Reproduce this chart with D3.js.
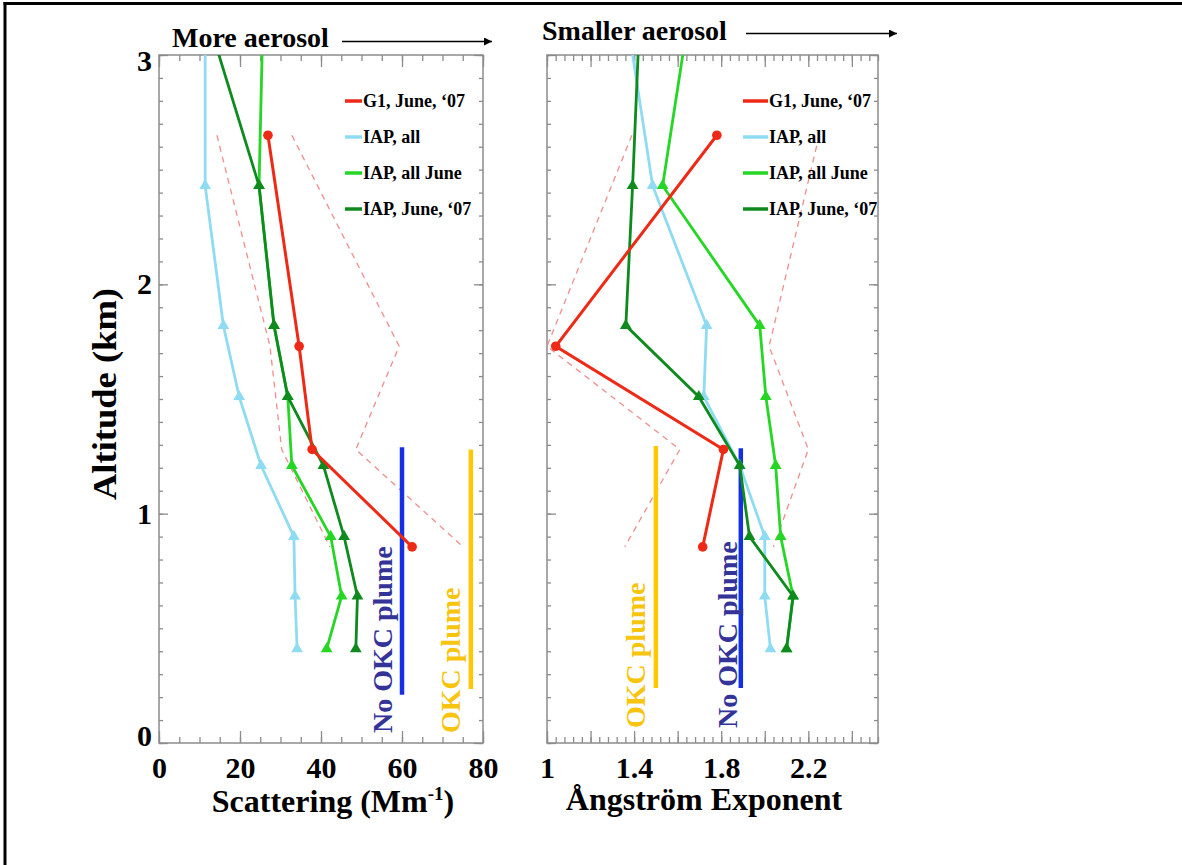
<!DOCTYPE html>
<html>
<head>
<meta charset="utf-8">
<title>Aerosol vertical profiles</title>
<style>
body { margin: 0; background: #fff; }
svg text { font-family: "Liberation Serif", "Times New Roman", serif; font-weight: bold; }
.frame { fill: none; stroke: #8c8c8c; stroke-width: 1.5; }
.ax .tick line { stroke: #8c8c8c; stroke-width: 1.3; }
.ax .domain { display: none; }
.lab text { fill: #000; }
</style>
</head>
<body>
<svg id="chart" width="1182" height="865"></svg>
<script src="https://cdn.jsdelivr.net/npm/d3@7"></script>
<script>
// altitudes (km) of the profile points
const iapAlt = [3.04, 2.43, 1.82, 1.51, 1.21, 0.90, 0.64, 0.41];
const g1Alt = [2.65, 1.73, 1.28, 0.855];

// scattering (Mm-1)
const g1Scat = [26.9, 34.6, 37.8, 62.5];
const g1ScatLo = [14.3, 27.4, 30.3, 42.2];
const g1ScatHi = [32.8, 59.3, 48.6, 75.1];
const iapAllScat = [11.4, 11.4, 15.9, 19.8, 25.2, 33.3, 33.6, 34.1];
const iapJuneScat = [25.5, 24.7, 28.4, 31.8, 32.8, 42.4, 45.1, 41.4];
const iap07Scat = [14.1, 24.7, 28.4, 31.8, 40.6, 45.7, 49.0, 48.6];

// angstrom exponent
const g1Ang = [1.78, 1.04, 1.81, 1.715];
const g1AngLo = [1.39, 1.0, 1.61, 1.357];
const g1AngHi = [2.25, 2.02, 2.20, 2.04];
const iapAllAng = [1.387, 1.485, 1.733, 1.72, 1.885, 2.0, 2.0, 2.026];
const iapJuneAng = [1.63, 1.531, 1.977, 2.005, 2.05, 2.073, 2.13, 2.10];
const iap07Ang = [1.42, 1.393, 1.362, 1.697, 1.885, 1.93, 2.13, 2.10];

// plume bars: value, bottom and top altitude
const plumeNames = ["No OKC plume", "OKC plume"];
const scatPlumeVal = [60, 77];
const angPlumeVal = [1.89, 1.50];
const scatPlumeAlt = [[0.21, 1.29], [0.235, 1.28]];
const angPlumeAlt = [[0.24, 1.285], [0.24, 1.295]];

// ticks and labels
const altTicks = [0, 1, 2, 3];
const scatTicks = [0, 20, 40, 60, 80];
const angTicks = [1, 1.4, 1.8, 2.2];
const seriesNames = ["G1, June, \u201807", "IAP, all", "IAP, all June", "IAP, June, \u201807"];

const col = { g1: "#ee2a16", all: "#8fdcf2", june: "#25d625", y07: "#0f8a1e", dash: "#ee8e8e" };
const plumeCol = ["#1530e2", "#ffc800"];
const plumeText = ["#343498", "#f7c510"];

const svg = d3.select("#chart");

// page border (cropped figure)
svg.append("line").attr("x1", 3.5).attr("x2", 1182).attr("y1", 3.5).attr("y2", 3.5)
  .attr("stroke", "#000").attr("stroke-width", 3);
svg.append("line").attr("x1", 5).attr("x2", 5).attr("y1", 2).attr("y2", 865)
  .attr("stroke", "#000").attr("stroke-width", 3);

const y = d3.scaleLinear().domain([0, 3]).range([743, 55]);

function steps(d0, d1, step) {
  const n = Math.floor((d1 - d0) / step + 1e-6);
  return d3.range(n + 1).map(i => +(d0 + i * step).toFixed(4));
}

const panels = [
  {
    id: "scat", x: d3.scaleLinear().domain([0, 80]).range([159, 483]),
    minor: 5, major: 20, labels: scatTicks, fmt: d3.format("d"),
    g1: g1Scat, lo: g1ScatLo, hi: g1ScatHi, all: iapAllScat, june: iapJuneScat, y07: iap07Scat,
    plume: scatPlumeVal, plumeAlt: scatPlumeAlt, textDx: [-10, -11], textBottom: 733,
    legX: 345, legLen: 17
  },
  {
    id: "ang", x: d3.scaleLinear().domain([1, 2.52]).range([547, 878]),
    minor: 0.04, major: 0.2, labels: angTicks, fmt: d => d3.format("")(d),
    g1: g1Ang, lo: g1AngLo, hi: g1AngHi, all: iapAllAng, june: iapJuneAng, y07: iap07Ang,
    plume: angPlumeVal, plumeAlt: angPlumeAlt, textDx: [-4, -11], textBottom: 728,
    legX: 743, legLen: 25
  }
];

panels.forEach((p, pi) => {
  const x = p.x;
  const [x0, x1] = x.range();
  const g = svg.append("g");

  // ticks, all pointing inward
  const xMinor = steps(x.domain()[0], x.domain()[1], p.minor);
  const xMajor = steps(x.domain()[0], x.domain()[1], p.major);
  const yMinor = steps(0, 3, 0.1);
  g.append("g").attr("class", "ax").attr("transform", `translate(0,${y(0)})`)
    .call(d3.axisBottom(x).tickValues(xMinor).tickSize(-6).tickFormat(""));
  g.append("g").attr("class", "ax").attr("transform", `translate(0,${y(0)})`)
    .call(d3.axisBottom(x).tickValues(xMajor).tickSize(-12).tickFormat(""));
  g.append("g").attr("class", "ax").attr("transform", `translate(0,${y(3)})`)
    .call(d3.axisTop(x).tickValues(xMinor).tickSize(-6).tickFormat(""));
  g.append("g").attr("class", "ax").attr("transform", `translate(0,${y(3)})`)
    .call(d3.axisTop(x).tickValues(xMajor).tickSize(-12).tickFormat(""));
  g.append("g").attr("class", "ax").attr("transform", `translate(${x0},0)`)
    .call(d3.axisLeft(y).tickValues(yMinor).tickSize(-4).tickFormat(""));
  g.append("g").attr("class", "ax").attr("transform", `translate(${x0},0)`)
    .call(d3.axisLeft(y).tickValues(altTicks).tickSize(-9).tickFormat(""));
  g.append("g").attr("class", "ax").attr("transform", `translate(${x1},0)`)
    .call(d3.axisRight(y).tickValues(yMinor).tickSize(-4).tickFormat(""));
  g.append("g").attr("class", "ax").attr("transform", `translate(${x1},0)`)
    .call(d3.axisRight(y).tickValues(altTicks).tickSize(-9).tickFormat(""));

  g.append("rect").attr("class", "frame")
    .attr("x", x0).attr("y", y(3)).attr("width", x1 - x0).attr("height", y(0) - y(3));

  // x tick labels
  const xl = g.append("g").attr("class", "lab").attr("transform", `translate(0,${y(0)})`)
    .call(d3.axisBottom(x).tickValues(p.labels).tickSize(0).tickPadding(14).tickFormat(p.fmt));
  xl.select(".domain").remove();
  xl.selectAll("text").attr("font-size", 30).attr("font-family", null);

  if (pi === 0) {
    const yl = g.append("g").attr("class", "lab").attr("transform", `translate(${x0},0)`)
      .call(d3.axisLeft(y).tickValues(altTicks).tickSize(0).tickPadding(7).tickFormat(d3.format("d")));
    yl.select(".domain").remove();
    yl.selectAll("text").attr("font-size", 30).attr("font-family", null)
      .attr("dy", d => d === 3 ? "0.5em" : d === 0 ? "0.07em" : "0.32em");
  }

  // data area
  g.append("clipPath").attr("id", "clip-" + p.id).append("rect")
    .attr("x", x0).attr("y", y(3)).attr("width", x1 - x0).attr("height", y(0) - y(3));
  const area = g.append("g").attr("clip-path", `url(#clip-${p.id})`);

  const line = d3.line().x(d => x(d[0])).y(d => y(d[1]));
  const zipG1 = v => v.map((d, i) => [d, g1Alt[i]]);
  const zipIap = v => v.map((d, i) => [d, iapAlt[i]]);

  [p.lo, p.hi].forEach(v => {
    area.append("path").datum(zipG1(v)).attr("d", line)
      .attr("fill", "none").attr("stroke", col.dash).attr("stroke-width", 1.3)
      .attr("stroke-dasharray", "6,5");
  });

  // plume bars and labels
  p.plume.forEach((v, i) => {
    area.append("line")
      .attr("x1", x(v)).attr("x2", x(v))
      .attr("y1", y(p.plumeAlt[i][0])).attr("y2", y(p.plumeAlt[i][1]))
      .attr("stroke", plumeCol[i]).attr("stroke-width", 4.5);
    g.append("text")
      .attr("transform", `translate(${x(v) + p.textDx[i]},${p.textBottom}) rotate(-90)`)
      .attr("font-size", 28).attr("fill", plumeText[i])
      .text(plumeNames[i]);
  });

  const tri = d3.symbol(d3.symbolTriangle, 60);
  const drawIap = (v, c) => {
    const pts = zipIap(v);
    area.append("path").datum(pts).attr("d", line)
      .attr("fill", "none").attr("stroke", c).attr("stroke-width", 2.8);
    area.selectAll(null).data(pts).join("path")
      .attr("d", tri).attr("fill", c)
      .attr("transform", d => `translate(${x(d[0])},${y(d[1])})`);
  };
  drawIap(p.all, col.all);
  drawIap(p.june, col.june);
  drawIap(p.y07, col.y07);

  const g1Pts = zipG1(p.g1);
  area.append("path").datum(g1Pts).attr("d", line)
    .attr("fill", "none").attr("stroke", col.g1).attr("stroke-width", 3);
  area.selectAll(null).data(g1Pts).join("circle")
    .attr("cx", d => x(d[0])).attr("cy", d => y(d[1])).attr("r", 4.8).attr("fill", col.g1);

  // legend
  const legCols = [col.g1, col.all, col.june, col.y07];
  seriesNames.forEach((s, i) => {
    const ly = 101 + i * 36;
    g.append("line").attr("x1", p.legX).attr("x2", p.legX + p.legLen)
      .attr("y1", ly).attr("y2", ly).attr("stroke", legCols[i]).attr("stroke-width", 3.5);
    g.append("text").attr("x", p.legX + p.legLen + 1).attr("y", ly + 6)
      .attr("font-size", 18).text(s);
  });
});

// arrows above the panels
const defs = svg.append("defs");
defs.append("marker").attr("id", "arrow").attr("viewBox", "0 0 10 10")
  .attr("refX", 10).attr("refY", 5).attr("markerWidth", 11).attr("markerHeight", 8)
  .attr("markerUnits", "userSpaceOnUse").attr("orient", "auto")
  .append("path").attr("d", "M0,0L10,5L0,10Z").attr("fill", "#000");

svg.append("text").attr("x", 172).attr("y", 47).attr("font-size", 28).text("More aerosol");
svg.append("line").attr("x1", 342).attr("x2", 492).attr("y1", 41.5).attr("y2", 41.5)
  .attr("stroke", "#000").attr("stroke-width", 1.5).attr("marker-end", "url(#arrow)");
svg.append("text").attr("x", 542).attr("y", 40).attr("font-size", 28).text("Smaller aerosol");
svg.append("line").attr("x1", 746).attr("x2", 897).attr("y1", 33.5).attr("y2", 33.5)
  .attr("stroke", "#000").attr("stroke-width", 1.5).attr("marker-end", "url(#arrow)");

// axis titles
svg.append("text").attr("transform", "translate(116,394) rotate(-90)")
  .attr("text-anchor", "middle").attr("font-size", 34)
  .attr("textLength", 212).attr("lengthAdjust", "spacingAndGlyphs")
  .text("Altitude (km)");

const xt = svg.append("text").attr("x", 333).attr("y", 812)
  .attr("text-anchor", "middle").attr("font-size", 32);
xt.append("tspan").text("Scattering (Mm");
xt.append("tspan").attr("font-size", 19).attr("dy", -12).text("-1");
xt.append("tspan").attr("dy", 12).text(")");

svg.append("text").attr("x", 704).attr("y", 810)
  .attr("text-anchor", "middle").attr("font-size", 32).text("Ångström Exponent");
</script>
</body>
</html>
